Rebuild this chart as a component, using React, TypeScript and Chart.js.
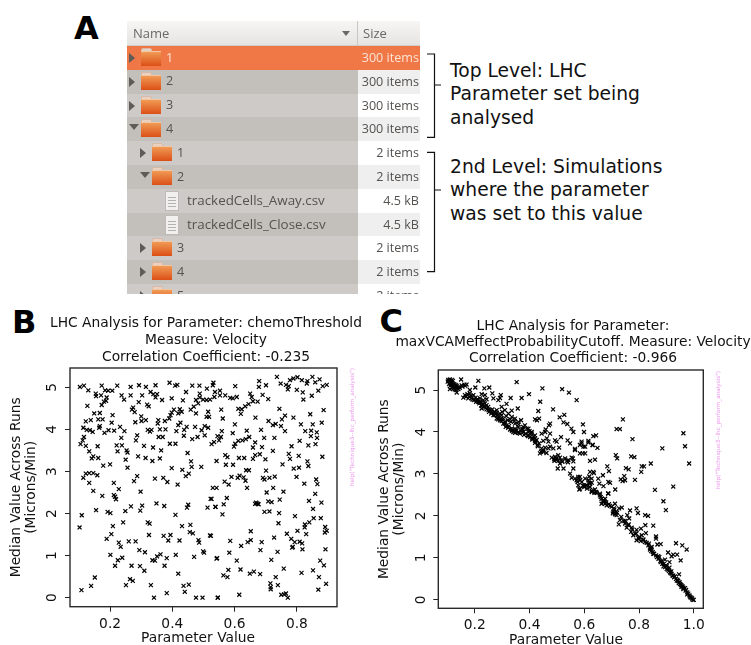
import React, { useEffect, useRef } from "react";
import { Chart, registerables } from "chart.js";

Chart.register(...registerables);

const chemoThresholdRuns: number[][] = [
[.103,5.01],[.116,5.04],[.130,4.93],[.173,5.04],[.184,4.93],[.194,4.92],[.207,4.92],[.223,5.04],[.266,5.01],[.293,5.05],[.315,5.01],[.346,5.05],[.391,5.11],[.409,5.04],[.416,5.06],[.444,4.89],[.464,5.04],[.487,5.04],[.511,4.97],[.532,5.11],[.530,5.05],[.537,4.89],[.553,4.92],
[.154,4.85],[.155,4.79],[.171,4.81],[.189,4.76],[.187,4.68],[.237,4.81],[.245,4.71],[.266,4.81],[.303,4.81],[.330,4.89],[.339,4.84],[.351,4.84],[.346,4.76],[.367,4.70],[.398,4.74],[.434,4.69],[.488,4.85],[.488,4.76],[.499,4.71],[.510,4.70],[.521,4.71],[.535,4.77],[.553,4.81],
[.127,4.56],[.173,4.58],[.180,4.66],[.292,4.65],[.319,4.59],[.324,4.55],[.274,4.52],[.270,4.47],[.279,4.41],[.476,4.70],[.459,4.47],[.469,4.54],[.483,4.62],[.424,4.48],[.405,4.47],[.398,4.40],[.394,4.34],[.419,4.38],[.430,4.42],[.476,4.38],[.515,4.42],[.510,4.30],[.518,4.30],
[.149,4.38],[.167,4.39],[.208,4.34],[.122,4.19],[.138,4.22],[.162,4.24],[.176,4.24],[.205,4.16],[.281,4.17],[.300,4.31],[.301,4.20],[.315,4.22],[.355,4.22],[.353,4.14],[.376,4.20],[.390,4.26],[.426,4.16],[.419,4.10],[.167,4.08],[.165,4.04],
[.114,4.04],[.125,3.99],[.135,3.98],[.144,3.94],[.182,3.92],[.195,3.98],[.213,3.97],[.232,4.06],[.246,3.96],[.321,3.99],[.333,3.99],[.328,3.95],[.360,4.00],[.378,4.00],[.413,3.96],[.438,3.99],[.446,4.06],[.473,4.06],[.494,3.98],[.504,4.08],[.515,4.04],[.504,3.86],
[.116,3.82],[.112,3.74],[.105,3.65],[.122,3.61],[.160,3.60],[.221,3.62],[.238,3.62],[.236,3.80],[.287,3.86],[.283,3.74],[.309,3.61],[.356,3.82],[.369,3.82],[.392,3.66],[.410,3.66],[.437,3.85],[.464,3.77],[.481,3.82],[.526,3.65],[.534,3.70],[.545,3.84],[.550,3.74],
[.133,3.48],[.146,3.36],[.141,3.31],[.162,3.32],[.224,3.48],[.253,3.50],[.256,3.45],[.338,3.57],[.364,3.50],[.290,3.36],[.314,3.32],[.336,3.25],[.360,3.31],[.250,3.28],[.449,3.44],[.460,3.24],[.542,3.25],
[.178,3.14],[.200,3.17],[.256,3.09],[.462,3.11],[.493,3.11],[.398,3.08],[.432,3.04],[.453,2.95],[.443,2.89],[.122,2.95],[.133,2.96],[.146,2.96],[.159,2.91],[.114,2.85],[.287,2.89],[.277,2.77],[.344,2.83],[.371,2.85],[.384,2.75],[.417,2.69],[.133,2.73],[.212,2.73],[.228,2.58],[.146,2.54],[.298,2.52],[.530,2.61],[.542,2.61],
[.175,2.42],[.212,2.44],[.219,2.34],[.216,2.40],[.523,2.35],[.349,2.24],[.374,2.18],[.451,2.21],[.447,2.14],[.513,2.14],[.538,2.16],[.303,2.19],[.267,2.17],[.297,2.07],[.249,2.06],[.155,2.08],[.192,2.04],[.201,2.01],[.109,1.96],[.410,1.97],[.102,1.67],[.209,1.70],[.242,1.79],[.321,1.79],[.327,1.76],[.431,1.70],[.458,1.73],[.325,1.49],[.204,1.51],[.189,1.40],[.372,1.47],[.394,1.49],[.387,1.36],[.456,1.56],[.466,1.53],[.521,1.48],[.228,1.31],[.234,1.21],[.260,1.34],[.282,1.34],[.423,1.36],[.484,1.37],[.486,1.31],[.294,1.13],[.312,1.08],[.201,1.02],[.239,.95],[.225,.89],[.216,.76],[.269,.76],[.296,.75],[.310,.64],[.351,.98],[.362,1.03],[.382,.94],[.411,1.02],[.336,.89],[.344,.88],[.375,.76],[.470,.97],[.499,1.10],[.502,1.07],[.542,.93],[.419,.57],[.151,.48],[.264,.44],[.273,.40],[.251,.30],[.139,.28],[.108,.18],[.331,.30],[.436,.28],[.453,.31],[.440,.14],[.382,.11],[.341,0],[.476,0],[.497,0],[.546,0],
[.736,5.25],[.679,5.15],[.678,5.01],[.701,5.05],[.748,5.09],[.765,5.06],[.774,5.03],[.771,4.95],[.778,5.17],[.789,5.21],[.802,5.24],[.816,5.17],[.834,5.15],[.832,5.09],[.850,5.25],[.859,5.12],[.873,5.19],[.883,5.03],[.896,5.06],[.869,4.92],[.848,4.80],[.800,4.94],[.819,4.88],[.821,4.71],[.602,5.03],[.570,4.81],[.586,4.75],[.594,4.74],[.607,4.77],[.650,4.85],[.655,4.77],[.690,4.82],[.708,4.72],[.674,4.66],[.659,4.67],[.645,4.60],[.634,4.55],[.623,4.48],[.612,4.49],[.620,4.37],[.557,4.47],[.562,4.26],[.667,4.28],[.601,4.12],[.744,4.49],[.843,4.36],[.886,4.46],[.709,4.20],[.752,4.24],[.762,4.33],[.789,4.28],[.813,4.12],[.851,4.12],[.880,4.16],[.732,4.13],[.723,4.10],[.749,4.08],[.762,3.96],[.685,3.99],[.639,3.97],[.559,3.96],[.594,3.91],[.556,3.82],[.647,3.82],[.636,3.77],[.625,3.74],[.612,3.73],[.602,3.66],[.598,3.59],[.666,3.69],[.659,3.57],[.688,3.58],[.695,3.80],[.728,3.80],[.723,3.49],[.783,3.60],[.809,3.73],[.827,3.96],[.846,3.97],[.864,3.93],[.845,3.84],[.865,3.80],[.837,3.62],[.860,3.65],[.774,3.42],[.778,3.30],[.806,3.37],[.882,3.35],[.834,3.24],[.837,3.13],[.807,3.09],[.790,3.07],[.754,3.17],[.699,3.29],[.681,3.41],[.666,3.39],[.659,3.30],[.631,3.32],[.614,3.32],[.570,3.39],[.577,3.34],[.572,3.16],[.595,3.16],[.637,3.03],[.646,3.03],[.701,3.02],[.590,2.87],[.616,2.90],[.610,2.85],[.629,2.86],[.635,2.78],[.568,2.76],[.581,2.69],[.691,2.85],[.696,2.81],[.712,2.85],[.729,2.88],[.799,2.87],[.824,2.71],[.862,2.81],[.866,2.70],[.640,2.61],[.724,2.61],[.703,2.50],[.757,2.52],[.859,2.47],
[.575,2.37],[.526,2.35],[.565,2.22],[.539,2.16],[.561,1.98],[.666,2.23],[.671,2.24],[.675,2.23],[.669,2.26],[.677,2.22],[.708,2.29],[.719,2.27],[.745,2.33],[.839,2.30],[.879,2.26],[.852,2.11],[.696,2.04],[.712,2.05],[.743,2.01],[.794,1.94],[.741,1.77],[.826,1.74],[.825,1.67],[.840,1.79],[.854,1.89],[.877,1.89],[.891,1.68],[.896,1.59],[.890,1.55],[.802,1.59],[.830,1.51],[.768,1.52],[.652,1.58],[.727,1.43],[.782,1.40],[.793,1.32],[.809,1.33],[.817,1.29],[.785,1.19],[.787,1.21],[.818,1.15],[.892,1.15],[.652,1.37],[.642,1.32],[.687,1.32],[.586,1.35],[.621,1.23],[.524,1.47],[.683,1.13],[.738,1.09],[.583,1.07],[.544,.94],[.607,.88],[.718,.90],[.875,.88],[.887,.77],[.758,.69],[.852,.65],[.815,.59],[.580,.66],[.619,.67],[.662,.62],[.649,.57],[.682,.56],[.564,.53],[.577,.49],[.732,.49],[.871,.49],[.894,.33],[.715,.34],[.739,.30],[.716,.25],[.716,.20],[.869,.19],[.750,.07],[.759,.08],[.765,.10],[.771,0],[.615,.07],[.546,0],
];

const maxVcamRuns: number[][] = [
[.103,5.24],[.109,5.25],[.116,5.24],[.101,5.20],[.109,5.17],[.118,5.17],[.106,5.14],[.116,5.12],[.125,5.14],[.134,5.10],[.128,5.08],[.142,5.08],[.152,5.11],[.162,5.13],[.170,5.13],[.109,5.02],[.122,5.04],[.130,5.00],[.134,4.94],[.140,5.02],[.150,5.25],
[.213,5.22],[.353,5.19],[.447,5.04],[.519,5.02],[.544,4.94],[.572,4.76],[.235,5.04],[.253,5.06],[.202,5.06],[.264,4.92],[.295,4.88],[.292,4.81],[.371,4.81],[.398,4.90],[.331,4.81],[.316,4.67],[.439,4.72],[.357,4.56],[.335,4.51],[.432,4.50],[.486,4.54],[.527,4.41],[.510,4.35],[.420,4.30],[.435,4.32],[.427,4.28],[.475,4.20],[.471,4.16],[.524,4.23],[.538,4.19],[.595,4.18],[.553,4.08],[.560,4.00],[.599,4.00],[.225,4.90],[.237,4.88],[.243,4.78],[.268,4.80],[.286,4.76],[.182,5.00],
[.158,4.82],[.164,4.88],[.173,4.90],[.182,4.92],[.176,4.80],[.189,4.80],[.195,4.88],[.198,4.76],[.207,4.76],[.213,4.72],[.219,4.72],[.225,4.70],[.231,4.76],[.237,4.68],[.243,4.64],[.225,4.56],[.223,4.63],[.249,4.60],[.256,4.52],[.262,4.48],[.268,4.40],[.274,4.44],[.280,4.46],[.286,4.36],[.280,4.32],[.292,4.28],[.298,4.40],[.304,4.32],[.310,4.24],[.316,4.16],[.325,4.14],[.335,4.08],[.341,4.00],[.353,4.04],[.359,4.00],[.369,4.04],[.377,4.00],[.386,3.96],[.396,4.00],[.408,3.96],[.414,3.89],[.420,3.85],[.426,3.81],[.435,3.73],[.444,3.61],[.438,3.49],[.450,3.53],[.469,3.61],[.475,3.65],[.487,3.61],[.493,3.41],[.499,3.37],[.505,3.45],[.517,3.33],[.511,3.25],[.530,3.37],[.542,3.33],[.554,3.39],[.503,3.13],[.524,3.13],[.560,3.13],[.548,3.01],[.554,2.91],[.578,2.93],[.572,2.85],[.578,2.73],[.584,2.65],[.609,2.73],[.615,2.85],[.627,2.89],[.633,3.05],[.627,2.60],[.637,2.55],
[.298,4.60],[.310,4.52],[.323,4.44],[.335,4.36],[.347,4.32],[.359,4.24],[.369,4.28],[.383,4.16],[.396,4.08],[.408,4.00],[.420,3.92],[.444,3.96],[.459,4.06],[.475,3.96],[.463,3.85],[.469,3.77],[.450,3.79],[.493,3.80],[.515,3.88],[.499,3.77],[.539,3.80],[.548,3.73],[.508,3.63],[.590,3.77],[.584,3.69],[.597,3.65],[.615,3.79],[.633,3.90],[.630,3.69],[.566,3.57],[.584,3.49],[.603,3.49],[.621,3.31],[.639,3.34],[.457,4.00],[.347,4.08],[.359,4.12],[.377,4.12],[.390,4.08],[.320,4.28],[.332,4.24],[.347,4.20],
[.186,4.86],[.203,4.82],[.210,4.78],[.219,4.80],[.228,4.64],[.235,4.60],[.243,4.54],[.252,4.48],[.264,4.54],[.271,4.48],[.283,4.40],[.292,4.44],[.296,4.32],[.304,4.20],[.313,4.12],[.329,4.06],[.337,4.03],[.347,3.98],[.365,3.96],[.374,4.06],[.393,3.92],[.402,3.88],[.410,3.82],[.420,3.74],[.430,3.66],[.442,3.53],[.457,3.63],[.481,3.39],[.491,3.31],[.496,3.34],[.536,3.31],[.511,3.39],[.566,2.89],[.591,2.81],[.600,2.69],[.621,2.69],[.618,2.77],
[.741,4.30],[.718,4.07],[.730,4.07],[.643,3.92],[.776,3.83],[.962,3.97],[.968,3.66],[.885,3.61],[.715,3.45],[.720,3.37],[.771,3.42],[.783,3.40],[.843,3.25],[.983,3.25],[.810,3.18],[.818,3.18],[.684,3.18],[.690,3.07],[.752,3.14],[.762,3.11],[.746,2.95],[.808,3.05],[.785,2.86],[.733,2.87],[.749,2.85],[.740,2.83],[.858,2.62],[.925,2.70],[.713,2.63],[.687,2.54],[.668,2.97],
[.590,3.73],[.603,3.65],[.566,3.60],[.594,3.49],[.631,3.69],[.648,3.62],[.615,3.75],[.558,3.37],[.578,2.89],[.575,2.81],[.584,2.93],[.603,2.89],[.618,2.94],[.621,3.05],[.635,3.02],[.627,2.79],[.606,2.73],[.651,2.89],[.655,2.77],[.670,2.71],[.688,2.81],[.694,2.79],[.582,2.63],[.627,2.57],[.643,2.57],[.657,2.53],[.639,2.63],
[.688,2.53],[.889,2.35],[.898,2.14],[.645,2.55],[.657,2.49],[.663,2.41],[.670,2.37],[.676,2.29],[.663,2.29],[.682,2.25],[.694,2.24],[.700,2.22],[.712,2.29],[.737,2.20],[.727,2.18],[.706,2.10],[.712,2.04],[.704,2.06],[.718,2.02],[.767,2.13],[.791,2.18],[.796,2.07],[.822,2.02],[.833,2.00],[.757,2.02],[.764,1.94],[.743,1.88],[.726,1.80],[.749,1.82],[.755,1.72],[.773,1.72],[.791,1.67],[.807,1.70],[.823,1.78],[.852,1.77],[.825,1.59],[.810,1.54],[.771,1.62],[.779,1.54],[.797,1.48],[.791,1.42],[.806,1.40],[.822,1.38],[.836,1.34],[.862,1.51],[.862,1.46],[.867,1.32],[.879,1.33],[.840,1.20],[.850,1.14],[.846,1.26],[.935,1.35],[.958,1.30],[.974,1.20],[.906,1.13],[.919,1.04],[.925,1.08],[.939,1.08],[.952,.94],[.895,.96],[.911,.90],[.862,1.06],[.871,.98],[.879,.90],[.889,.80],[.901,.74],[.909,.69],[.919,.62],[.931,.56],[.946,.61],[.940,.48],[.950,.38],[.959,.32],[.968,.28],[.976,.18],[.984,.11],[.992,.05],[1,0],[.901,.80],[.913,.66],[.935,.50],[.962,.26],[.972,.24],[.986,.08],[.996,0],[.925,.58],[.943,.45],[.883,.92],[.852,1.10],[.834,1.30],[.816,1.44],[.785,1.58],[.761,1.78],[.730,1.90],[.716,2.10],[.676,2.41],[.976,.13],[.956,.34],[.911,.77],[.891,.86],[.874,1.02],[.844,1.16],[.801,1.50],[.708,2.18],[.672,2.33],
[.105,5.22],[.112,5.19],[.120,5.22],[.113,5.15],[.122,5.11],[.130,5.12],[.110,5.10],[.118,5.06],[.126,5.02],[.135,5.05],[.145,5.05],[.155,5.08],[.165,5.10],
[.168,4.84],[.180,4.84],[.192,4.77],[.205,4.72],[.216,4.68],[.230,4.66],[.240,4.58],[.250,4.52],[.260,4.44],[.272,4.40],[.285,4.30],[.298,4.26],[.310,4.20],[.322,4.10],[.335,4.04],[.348,4.02],[.362,3.98],[.380,3.93],[.395,3.90],[.410,3.85],[.420,3.79],[.430,3.70],[.450,3.56],[.462,3.50],[.490,3.35],[.505,3.31],[.520,3.29],[.540,3.28],[.560,3.30],
[.280,4.52],[.300,4.48],[.315,4.38],[.330,4.30],[.345,4.26],[.360,4.18],[.375,4.07],[.400,4.02],
[.600,2.72],[.610,2.65],[.620,2.78],[.595,2.72],[.585,2.85],
[.660,2.45],[.668,2.35],[.680,2.32],[.690,2.28],[.710,2.15],[.720,2.08],[.735,1.98],[.750,1.88],[.762,1.80],[.775,1.68],[.790,1.58],[.800,1.45],[.815,1.42],[.828,1.36],[.845,1.22],[.855,1.10],[.865,1.02],[.878,.93],[.885,.86],[.895,.78],[.905,.72],[.915,.64],[.922,.58],[.928,.54],[.938,.46],[.945,.40],[.953,.36],[.962,.29],[.970,.22],[.980,.15],[.988,.06],[.994,.03],[.955,.31],[.948,.42],[.918,.68],[.898,.82],[.870,1.04],[.840,1.24],
];

const yTickValues = [0, 1, 2, 3, 4, 5];
const chemoTitle = ["LHC Analysis for Parameter: chemoThreshold", "Measure: Velocity", "Correlation Coefficient: -0.235"];
const maxVcamTitle = ["LHC Analysis for Parameter:", "maxVCAMeffectProbabilityCutoff. Measure: Velocity", "Correlation Coefficient: -0.966"];
const yAxisTitle = ["Median Value Across Runs", "(Microns/Min)"];
const xAxisTitle = "Parameter Value";
const helpNote = 'help("Technique3--lhc_perform_analysis")';

const folderRows = [
  { level: 0, name: "1", size: "300 items", arrow: "right", kind: "folder" },
  { level: 0, name: "2", size: "300 items", arrow: "right", kind: "folder" },
  { level: 0, name: "3", size: "300 items", arrow: "right", kind: "folder" },
  { level: 0, name: "4", size: "300 items", arrow: "down", kind: "folder" },
  { level: 1, name: "1", size: "2 items", arrow: "right", kind: "folder" },
  { level: 1, name: "2", size: "2 items", arrow: "down", kind: "folder" },
  { level: 2, name: "trackedCells_Away.csv", size: "4.5 kB", arrow: "", kind: "file" },
  { level: 2, name: "trackedCells_Close.csv", size: "4.5 kB", arrow: "", kind: "file" },
  { level: 1, name: "3", size: "2 items", arrow: "right", kind: "folder" },
  { level: 1, name: "4", size: "2 items", arrow: "right", kind: "folder" },
  { level: 1, name: "5", size: "2 items", arrow: "right", kind: "folder" },
];
const topLevelNote = ["Top Level: LHC", "Parameter set being", "analysed"];
const secondLevelNote = ["2nd Level: Simulations", "where the parameter", "was set to this value"];

const FONT = "DejaVu Sans";
const LABEL_SIZE = 13.8;

const frame = {
  id: "frame",
  afterDraw(chart: any) {
    const { ctx, chartArea: a } = chart;
    ctx.save();
    ctx.strokeStyle = "#2a2a2a";
    ctx.lineWidth = 1.4;
    ctx.strokeRect(a.left, a.top, a.right - a.left, a.bottom - a.top);
    ctx.restore();
  },
};

function titleBlock(lines: string[], cx: number, ys: number[], xTitleX: number, xTitleY: number) {
  return {
    id: "titleBlock",
    afterDraw(chart: any) {
      const { ctx } = chart;
      ctx.save();
      ctx.font = `${LABEL_SIZE}px "${FONT}"`;
      ctx.fillStyle = "#111";
      ctx.textAlign = "center";
      ctx.textBaseline = "middle";
      lines.forEach((t, i) => ctx.fillText(t, cx, ys[i]));
      ctx.fillText(xAxisTitle, xTitleX, xTitleY);
      ctx.restore();
    },
  };
}

function Scatter(p: any) {
  const ref = useRef<HTMLCanvasElement>(null);
  useEffect(() => {
    const chart = new Chart(ref.current!, {
      type: "scatter",
      data: {
        datasets: [{
          data: p.points.map((d: number[]) => ({ x: d[0], y: d[1] })),
          pointStyle: "crossRot",
          pointRadius: 2.8,
          pointBorderWidth: 1.2,
          borderColor: "#000",
          backgroundColor: "#000",
        }],
      },
      options: {
        responsive: false,
        animation: false,
        events: [],
        layout: { padding: { right: p.padRight, left: 0, top: p.padTop, bottom: 0 } },
        plugins: {
          legend: { display: false },
          tooltip: { enabled: false },
          title: { display: false },
        },
        scales: {
          x: {
            type: "linear",
            min: p.xMin,
            max: p.xMax,
            afterFit: (s: any) => { s.height = p.xAxisH; },
            border: { display: false },
            grid: { drawOnChartArea: false, drawTicks: true, tickLength: 5, color: "#222", lineWidth: 1 },
            ticks: {
              stepSize: 0.2,
              includeBounds: false,
              autoSkip: false,
              maxRotation: 0,
              padding: 4,
              color: "#111",
              font: { family: FONT, size: LABEL_SIZE },
              callback: (v: any) => Number(v).toFixed(1),
            },
            title: { display: false },
          },
          y: {
            type: "linear",
            min: p.yMin,
            max: p.yMax,
            afterFit: (s: any) => { s.width = p.yAxisW; },
            afterBuildTicks: (s: any) => { s.ticks = yTickValues.map((value) => ({ value })); },
            border: { display: false },
            grid: { drawOnChartArea: false, drawTicks: true, tickLength: 5, color: "#222", lineWidth: 1 },
            ticks: {
              autoSkip: false,
              minRotation: 90,
              maxRotation: 90,
              crossAlign: "center",
              padding: p.yTickPad,
              color: "#111",
              font: { family: FONT, size: LABEL_SIZE },
              callback: (v: any) => String(v),
            },
            title: {
              display: true,
              text: yAxisTitle,
              color: "#111",
              font: { family: FONT, size: LABEL_SIZE, lineHeight: 1.1 },
              padding: { top: p.yTitlePad, bottom: 0 },
            },
          },
        },
      },
      plugins: [frame, titleBlock(p.title, p.titleX, p.titleYs, p.xTitleX, p.xTitleY)],
    } as any);
    return () => chart.destroy();
  }, []);
  return (
    <canvas
      ref={ref}
      width={p.w}
      height={p.h}
      style={{ position: "absolute", left: p.left, top: p.top, width: p.w, height: p.h }}
    />
  );
}

const abs = (left: number, top: number, extra: any = {}) => ({ position: "absolute", left, top, ...extra });

function Folder({ x, y }: { x: number; y: number }) {
  return (
    <div style={abs(x, y, { width: 20, height: 18 })}>
      <div style={abs(0, 0, { width: 11, height: 5, background: "#e9d2c4", borderRadius: "2px 2px 0 0", border: "1px solid #d9b8a5", boxSizing: "border-box" })} />
      <div style={abs(0, 3, { width: 20, height: 15, background: "linear-gradient(#f09a55,#dc4f16)", boxSizing: "border-box", borderTop: "1px solid #f3c6a0" })} />
    </div>
  );
}

function Doc({ x, y }: { x: number; y: number }) {
  return (
    <div style={abs(x, y, { width: 14, height: 20, background: "#f1f0ee", border: "1px solid #bdbbb8", boxSizing: "border-box" })}>
      {[5, 8, 11, 14].map((t) => (
        <div key={t} style={abs(2, t, { width: 8, height: 1, background: "#b5b3b0" })} />
      ))}
    </div>
  );
}

function Arrow({ x, y, dir }: { x: number; y: number; dir: string }) {
  const s: any =
    dir === "right"
      ? { borderTop: "5px solid transparent", borderBottom: "5px solid transparent", borderLeft: "6px solid #5f5c58" }
      : { borderLeft: "5px solid transparent", borderRight: "5px solid transparent", borderTop: "6px solid #5f5c58" };
  return <div style={abs(x, y, { width: 0, height: 0, ...s })} />;
}

function FilePanel() {
  const rowH = 23.8;
  const uiFont = '"Open Sans", "Noto Sans", sans-serif';
  return (
    <div style={abs(127, 21, { width: 293, height: 273, overflow: "hidden", filter: "blur(0.45px)", fontFamily: uiFont, background: "#fff" })}>
      <div style={abs(0, 0, { width: 293, height: 24.5, background: "linear-gradient(#f7f6f5,#e6e4e1)", borderBottom: "1px solid #cfcdca", boxSizing: "border-box" })} />
      <div style={abs(230, 0, { width: 1, height: 24, background: "#c9c7c4" })} />
      <div style={abs(6, 3, { fontSize: 13, color: "#6a6866" })}>Name</div>
      <div style={abs(236, 3, { fontSize: 13, color: "#6a6866" })}>Size</div>
      <div style={abs(215, 10, { width: 0, height: 0, borderLeft: "4px solid transparent", borderRight: "4px solid transparent", borderTop: "5px solid #6a6866" })} />
      {folderRows.map((r, i) => {
        const top = 25 + i * rowH;
        const sel = i === 0;
        const dark = i % 2 === 1;
        const iconX = r.level === 0 ? 14 : 25;
        const textX = r.kind === "file" ? 60 : r.level === 0 ? 39 : 50;
        const arrowX = r.level === 0 ? 2 : 13;
        return (
          <React.Fragment key={i}>
            <div style={abs(0, top, { width: 231, height: rowH, background: sel ? "#f07846" : dark ? "#c3c0bb" : "#cdcac7" })} />
            <div style={abs(231, top, { width: 62, height: rowH, background: sel ? "#f07846" : dark ? "#efefef" : "#ffffff" })} />
            {r.arrow ? <Arrow x={arrowX} y={top + 7} dir={r.arrow} /> : null}
            {r.kind === "folder" ? <Folder x={iconX} y={top + 2} /> : <Doc x={38} y={top + 2} />}
            <div style={abs(textX, top + 2.5, { fontSize: r.kind === "file" ? 13.4 : 12.6, color: sel ? "#fde3d5" : "#55524f", whiteSpace: "nowrap" })}>{r.name}</div>
            <div style={abs(0, top + 3, { width: 292, textAlign: "right", fontSize: 12.6, color: sel ? "#fde3d5" : "#55524f", whiteSpace: "nowrap" })}>{r.size}</div>
          </React.Fragment>
        );
      })}
    </div>
  );
}

function Bracket({ top, bottom, mid }: { top: number; bottom: number; mid: number }) {
  return (
    <path
      d={`M427 ${top}H434.5V${bottom}H427M434.5 ${mid}H441`}
      fill="none"
      stroke="#111"
      strokeWidth="1.2"
    />
  );
}

function NoteLines({ lines, x, y }: { lines: string[]; x: number; y: number }) {
  return (
    <>
      {lines.map((t, i) => (
        <div key={t} style={abs(x, y + i * 23.3, { transform: "translateY(-50%)", fontFamily: FONT, fontSize: 18.7, lineHeight: "22px", color: "#111", whiteSpace: "nowrap" })}>{t}</div>
      ))}
    </>
  );
}

function PanelLetter({ t, x, y }: { t: string; x: number; y: number }) {
  return <div style={abs(x, y, { fontFamily: FONT, fontWeight: "bold", fontSize: 32, lineHeight: "32px", color: "#000" })}>{t}</div>;
}

function HelpNote({ x, y }: { x: number; y: number }) {
  return (
    <div style={abs(x, y, { transform: "translate(-50%,-50%) rotate(-90deg)", fontFamily: FONT, fontSize: 5.7, color: "#ea96ea", whiteSpace: "nowrap" })}>{helpNote}</div>
  );
}

export default function App() {
  return (
    <div style={abs(0, 0, { width: 751, height: 645, overflow: "hidden", background: "#fff", position: "fixed" })}>
      <PanelLetter t="A" x={74} y={12} />
      <FilePanel />
      <svg width={751} height={300} style={abs(0, 0)}>
        <Bracket top={54} bottom={137.3} mid={85} />
        <Bracket top={152.3} bottom={271.7} mid={190} />
      </svg>
      <NoteLines lines={topLevelNote} x={450} y={71} />
      <NoteLines lines={secondLevelNote} x={450} y={167} />
      <PanelLetter t="B" x={12} y={306} />
      <PanelLetter t="C" x={379.5} y={305} />
      <Scatter
        points={chemoThresholdRuns} title={chemoTitle} titleX={206} titleYs={[15, 32, 49]}
        xTitleX={198} xTitleY={330}
        left={0} top={308} w={412} h={337} padRight={75} padTop={60}
        xMin={0.0712} xMax={0.929} yMin={-0.214} yMax={5.46}
        xAxisH={38.3} yAxisW={70} yTickPad={8} yTitlePad={9}
      />
      <HelpNote x={351.5} y={426.5} />
      <Scatter
        points={maxVcamRuns} title={maxVcamTitle} titleX={198} titleYs={[16, 32, 48]}
        xTitleX={191} xTitleY={330}
        left={375} top={310} w={396} h={340} padRight={67.7} padTop={60}
        xMin={0.0667} xMax={1.0347} yMin={-0.2} yMax={5.477}
        xAxisH={41.7} yAxisW={63.3} yTickPad={7.5} yTitlePad={2}
      />
      <HelpNote x={718} y={430} />
    </div>
  );
}
